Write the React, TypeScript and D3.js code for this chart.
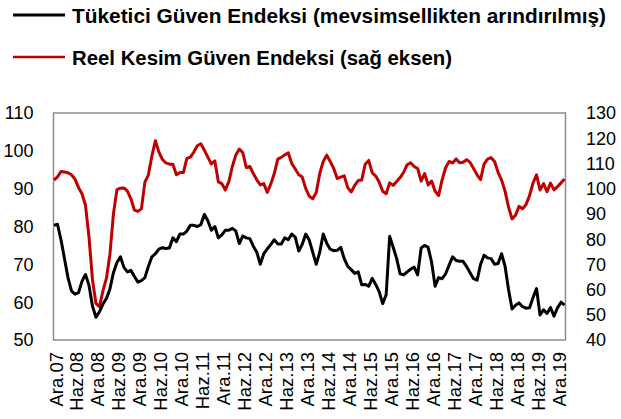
import React, { useEffect, useRef } from 'react';
import * as d3 from 'd3';

// monthly, Ara.07 .. Şub.20
const consumer = [
  80.3, 80.6, 76.5, 71.5, 66.5, 63, 62.1, 62.5, 65.5, 67.3, 64.5, 59,
  56, 57.5, 59.5, 61, 63.5, 67.8, 70.5, 72, 69.2, 68, 68.4, 66.8,
  65.3, 65.7, 66.5, 69.5, 72, 72.8, 74, 74.4, 74.2, 74.3, 77, 76,
  78, 78, 78.8, 80.3, 80.3, 80, 80.5, 83.2, 81.5, 79, 80, 77,
  77.8, 79, 79, 79.5, 78.8, 75.5, 77.5, 77, 76.8, 74.8, 73.2, 70,
  72.8, 74.1, 75.2, 76.5, 75.4, 75.4, 77, 76.5, 78, 77.2, 73.5, 75.3,
  78, 76.4, 73.2, 70, 73.2, 78, 75.6, 74, 73.6, 73.7, 74.5, 71.5,
  69.5, 68.6, 67.6, 68, 64.6, 64.7, 64.2, 66.3, 64.7, 62.8, 59.6, 62,
  77.4, 74.5, 71.5, 67.5, 67.2, 68, 68.7, 69.3, 67.2, 74.3, 75, 74.5,
  70.5, 64.2, 66.5, 66.2, 67.5, 69.8, 72, 71, 70.8, 70.8, 69.4, 67.8,
  66.2, 65.8, 70, 72.4, 71.7, 71.5, 70, 70.2, 72.8, 69.5, 63.3, 58.2,
  59.2, 59.8, 58.8, 58.4, 58.5, 61.2, 63.6, 56.6, 58, 57, 58.6, 56.3,
  58.5, 60, 59.2,
];

const realSector = [
  103.4, 104.7, 106.8, 106.6, 106.3, 105.5, 103.8, 100.5, 98, 93.5, 81, 64,
  54.5, 53.2, 59.5, 64.5, 74, 90, 99.6, 100.2, 100.3, 99, 96, 91.5,
  91, 92, 102.6, 105.5, 113, 119, 114.5, 111.6, 110.2, 109.7, 109.7, 105.5,
  106.4, 106.4, 112, 112.5, 114.5, 117, 117.8, 115.2, 112.5, 109.8, 111, 102.7,
  102, 99.5, 102.8, 108.8, 113.3, 115.7, 114.2, 108.4, 108.8, 106, 103.5, 101.5,
  102, 98.5, 101.8, 106, 111.7, 112.4, 113.4, 114.2, 110, 107.8, 105.5, 104.6,
  100, 97, 96, 98.5, 106, 110.8, 113.3, 110.8, 108, 104, 104.6, 105.1,
  100.4, 98.7, 101.3, 103.2, 103.4, 109.7, 111.2, 106.3, 105, 102.6, 99, 98,
  102.3, 101.3, 102.8, 104.4, 106.5, 109.5, 110.3, 108.8, 108, 103, 106, 101.5,
  103, 99, 97.3, 103.5, 108.3, 110.8, 110.2, 111.8, 110.3, 110.5, 111.5, 110.4,
  108, 105.5, 103.6, 109.8, 111.7, 112.3, 110.8, 106.5, 103.5, 99, 92.7, 88,
  89.5, 93, 92, 93.7, 97.3, 102.2, 105.5, 99.5, 102, 98.8, 102.2, 99.5,
  100.8, 102.3, 103.8,
];

const tickLabels = [
  'Ara.07', 'Haz.08', 'Ara.08', 'Haz.09', 'Ara.09', 'Haz.10', 'Ara.10',
  'Haz.11', 'Ara.11', 'Haz.12', 'Ara.12', 'Haz.13', 'Ara.13', 'Haz.14',
  'Ara.14', 'Haz.15', 'Ara.15', 'Haz.16', 'Ara.16', 'Haz.17', 'Ara.17',
  'Haz.18', 'Ara.18', 'Haz.19', 'Ara.19',
];

const leftTicks = [50, 60, 70, 80, 90, 100, 110];
const rightTicks = [40, 50, 60, 70, 80, 90, 100, 110, 120, 130];

const legendItems = [
  { label: 'Tüketici Güven Endeksi (mevsimsellikten arındırılmış)', color: '#000000', len: 534 },
  { label: 'Reel Kesim Güven Endeksi (sağ eksen)', color: '#C00000', len: 380 },
];

const width = 621;
const height = 419;
const font = '"Liberation Sans", Arial, sans-serif';

const App = () => {
  const ref = useRef<SVGSVGElement>(null);

  useEffect(() => {
    const svg = d3.select(ref.current);
    svg.selectAll('*').remove();

    const left = 53.5;
    const right = 565.5;
    const top = 113;
    const bottom = 340;

    const x = d3.scaleLinear().domain([0, consumer.length - 1]).range([left + 0.5, right - 1]);
    const yL = d3.scaleLinear().domain([50, 110]).range([bottom, top]);
    const yR = d3.scaleLinear().domain([40, 130]).range([bottom, top]);

    // legend
    legendItems.forEach((d, i) => {
      const ly = 15 + i * 42;
      svg.append('line')
        .attr('x1', 13).attr('x2', 65)
        .attr('y1', ly).attr('y2', ly)
        .attr('stroke', d.color)
        .attr('stroke-width', i === 0 ? 3.2 : 2.6);
      svg.append('text')
        .attr('x', 72).attr('y', ly + 7.5)
        .attr('font-family', font)
        .attr('font-weight', 'bold')
        .attr('font-size', 21)
        .attr('textLength', d.len)
        .attr('lengthAdjust', 'spacingAndGlyphs')
        .attr('fill', '#000')
        .text(d.label);
    });

    // plot frame
    svg.append('rect')
      .attr('x', left).attr('y', top)
      .attr('width', right - left).attr('height', bottom - top)
      .attr('fill', 'none')
      .attr('stroke', '#8c8c8c')
      .attr('stroke-width', 1.5);

    // left axis labels
    svg.append('g')
      .selectAll('text')
      .data(leftTicks)
      .enter()
      .append('text')
      .attr('x', 33.5)
      .attr('y', (d) => yL(d))
      .attr('dy', '0.36em')
      .attr('text-anchor', 'end')
      .attr('font-family', font)
      .attr('font-size', 18)
      .attr('fill', '#000')
      .text((d) => d);

    // right axis labels
    svg.append('g')
      .selectAll('text')
      .data(rightTicks)
      .enter()
      .append('text')
      .attr('x', 586)
      .attr('y', (d) => yR(d))
      .attr('dy', '0.36em')
      .attr('text-anchor', 'start')
      .attr('font-family', font)
      .attr('font-size', 18)
      .attr('fill', '#000')
      .text((d) => d);

    // x labels every 6 months
    svg.append('g')
      .selectAll('text')
      .data(tickLabels)
      .enter()
      .append('text')
      .attr('transform', (d, i) => `translate(${x(i * 6) + 8.5},352) rotate(-90)`)
      .attr('text-anchor', 'end')
      .attr('font-family', font)
      .attr('font-size', 18.5)
      .attr('fill', '#000')
      .text((d) => d);

    const lineL = d3.line<number>().x((d, i) => x(i)).y((d) => yL(d));
    const lineR = d3.line<number>().x((d, i) => x(i)).y((d) => yR(d));

    svg.append('path')
      .datum(realSector)
      .attr('d', lineR)
      .attr('fill', 'none')
      .attr('stroke', '#C00000')
      .attr('stroke-width', 3)
      .attr('stroke-linejoin', 'round');

    svg.append('path')
      .datum(consumer)
      .attr('d', lineL)
      .attr('fill', 'none')
      .attr('stroke', '#000000')
      .attr('stroke-width', 3)
      .attr('stroke-linejoin', 'round');
  }, []);

  return (
    <svg
      ref={ref}
      width={width}
      height={height}
      style={{ position: 'absolute', left: 0, top: 0, background: '#fff' }}
    />
  );
};

export default App;
